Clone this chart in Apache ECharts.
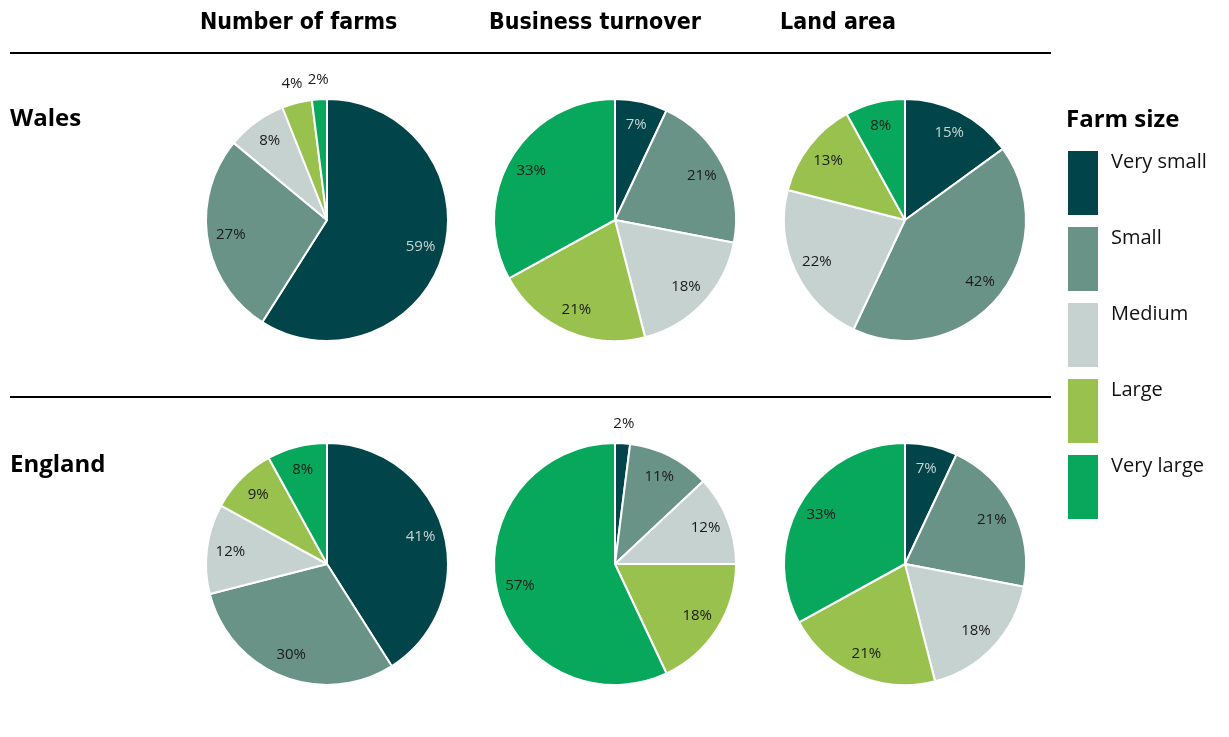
<!DOCTYPE html>
<html>
<head>
<meta charset="utf-8">
<script src="https://cdn.jsdelivr.net/npm/echarts@6/dist/echarts.min.js"></script>
<style>
  html, body { margin: 0; padding: 0; background: #fff; }
  #chart { width: 1229px; height: 737px; }
</style>
</head>
<body>
<div id="chart"></div>
<script>
// farm size categories (legend order, also slice order clockwise from 12 o'clock)
const sizes = ['Very small', 'Small', 'Medium', 'Large', 'Very large'];
const measures = ['Number of farms', 'Business turnover', 'Land area'];
const regions = ['Wales', 'England'];

// shares in %
const walesFarms = [59, 27, 8, 4, 2];
const walesTurnover = [7, 21, 18, 21, 33];
const walesLand = [15, 42, 22, 13, 8];
const englandFarms = [41, 30, 12, 9, 8];
const englandTurnover = [2, 11, 12, 18, 57];
const englandLand = [7, 21, 18, 21, 33];

const colors = ['#01454b', '#6a9387', '#c5d2cf', '#98c24d', '#07a85c'];
const labelColors = ['#c9d4d1', '#1a1a1a', '#1a1a1a', '#1a1a1a', '#1a1a1a'];
const R = 121;
const labelFont = 'Open Sans';

const panels = [
  { values: walesFarms, center: [327, 220] },
  { values: walesTurnover, center: [615, 220] },
  { values: walesLand, center: [905, 220] },
  { values: englandFarms, center: [327, 564] },
  { values: englandTurnover, center: [615, 564] },
  { values: englandLand, center: [905, 564] }
];

const chart = echarts.init(document.getElementById('chart'));

const series = [];
panels.forEach(p => {
  const data = p.values.map((v, i) => ({ name: sizes[i], value: v }));
  // visible pie
  series.push({
    type: 'pie',
    center: p.center,
    radius: [0, R],
    startAngle: 90,
    clockwise: true,
    animation: false,
    itemStyle: { borderColor: '#fff', borderWidth: 2 },
    label: { show: false },
    labelLine: { show: false },
    emphasis: { scale: false },
    data: data
  });
  // transparent ring carrying the labels that sit inside the slices
  series.push({
    type: 'pie',
    center: p.center,
    radius: [R * 0.56, R],
    startAngle: 90,
    silent: true,
    animation: false,
    emphasis: { disabled: true },
    itemStyle: { color: 'rgba(0,0,0,0)' },
    labelLine: { show: false },
    data: p.values.map((v, i) => ({
      name: sizes[i], value: v,
      label: {
        show: v >= 5, position: 'inside', formatter: '{c}%',
        color: labelColors[i], fontSize: 15, fontFamily: labelFont
      }
    }))
  });
  // transparent ring for labels of the thin slices, just outside the pie
  series.push({
    type: 'pie',
    center: p.center,
    radius: [R, R * 1.28],
    startAngle: 90,
    silent: true,
    animation: false,
    emphasis: { disabled: true },
    itemStyle: { color: 'rgba(0,0,0,0)' },
    labelLine: { show: false },
    data: p.values.map((v, i) => ({
      name: sizes[i], value: v,
      label: {
        show: v < 5, position: 'inside', formatter: '{c}%',
        color: '#1a1a1a', fontSize: 15, fontFamily: labelFont
      }
    }))
  });
});

const headStyle = { fontFamily: 'DejaVu Sans Condensed', fontWeight: 'bold', fontSize: 23, color: '#000' };
const rowStyle = { fontFamily: 'Open Sans', fontWeight: 'bold', fontSize: 24, color: '#000' };

const option = {
  color: colors,
  animation: false,
  title: [
    { text: measures[0], left: 200, top: 12, padding: 0, textStyle: headStyle },
    { text: measures[1], left: 489, top: 12, padding: 0, textStyle: headStyle },
    { text: measures[2], left: 780, top: 12, padding: 0, textStyle: headStyle },
    { text: regions[0], left: 10, top: 107, padding: 0, textStyle: rowStyle },
    { text: regions[1], left: 10, top: 453, padding: 0, textStyle: rowStyle },
    { text: 'Farm size', left: 1066, top: 108, padding: 0, textStyle: rowStyle }
  ],
  legend: {
    orient: 'vertical',
    left: 1066,
    top: 149,
    padding: 0,
    icon: 'rect',
    itemWidth: 32,
    itemHeight: 66,
    itemGap: 8,
    selectedMode: false,
    data: sizes,
    // push each name to the top of its swatch
    formatter: name => name + '\n{gap| }',
    textStyle: {
      fontFamily: 'Open Sans', fontSize: 20, color: '#111',
      lineHeight: 24,
      padding: [0, 0, 0, 7],
      rich: { gap: { lineHeight: 42, fontSize: 10 } }
    }
  },
  graphic: [
    { type: 'line', shape: { x1: 10, y1: 53, x2: 1051, y2: 53 }, style: { stroke: '#000', lineWidth: 2 } },
    { type: 'line', shape: { x1: 10, y1: 397, x2: 1051, y2: 397 }, style: { stroke: '#000', lineWidth: 2 } }
  ],
  series: series
};

chart.setOption(option);
window.addEventListener('resize', () => chart.resize());
</script>
</body>
</html>
